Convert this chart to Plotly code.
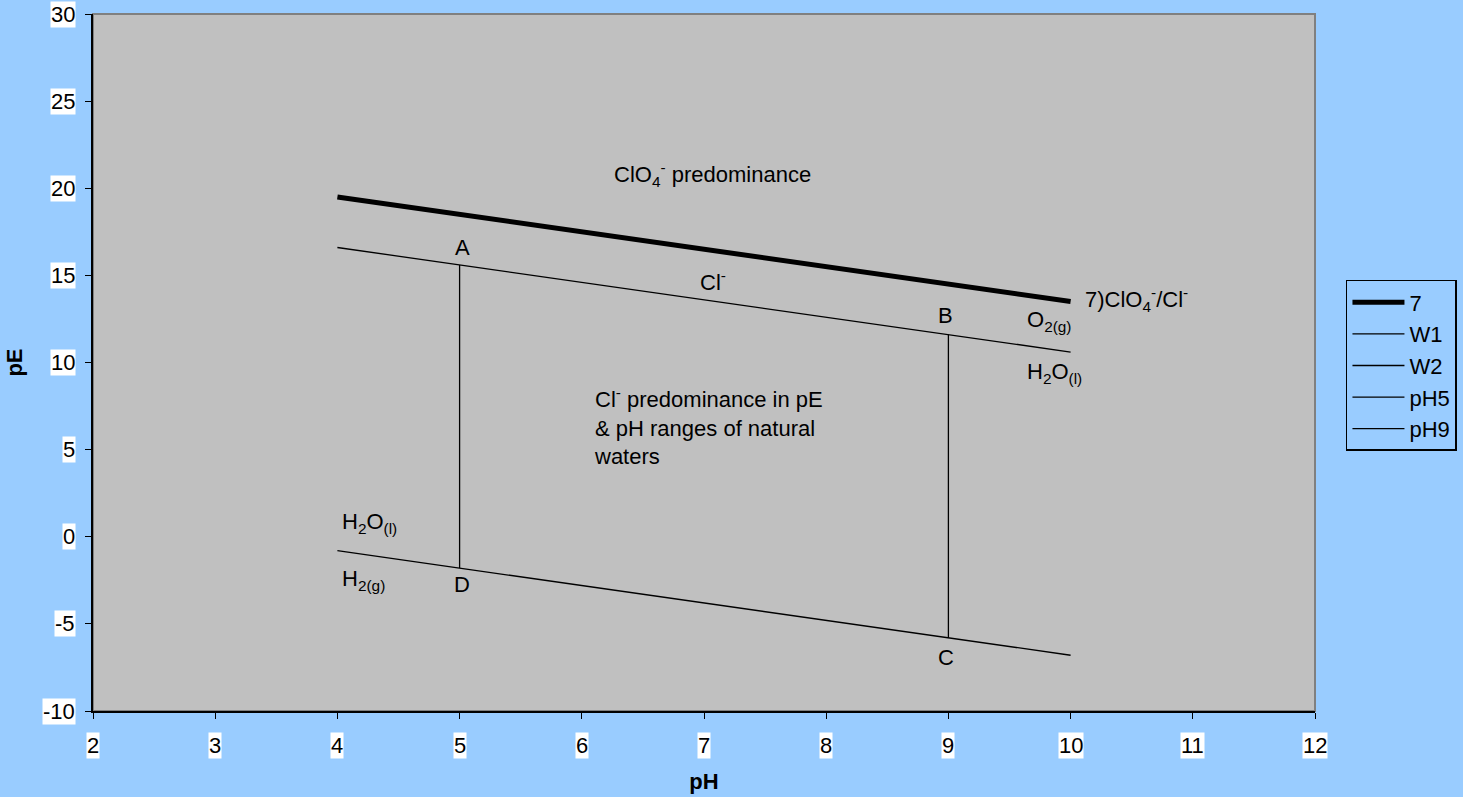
import plotly.graph_objects as go

# Data
ph_line = [4, 10]
pe_7 = [19.5, 13.5]
pe_w1 = [16.6, 10.6]
pe_w2 = [-0.8, -6.8]
ph5_x = [5, 5]
ph5_y = [15.6, -1.8]
ph9_x = [9, 9]
ph9_y = [11.6, -5.8]

x_ticks = [2, 3, 4, 5, 6, 7, 8, 9, 10, 11, 12]
y_ticks = [-10, -5, 0, 5, 10, 15, 20, 25, 30]

FONT = "Arial, Liberation Sans, sans-serif"
FS = 22
BG = "#99CCFF"
PLOT_BG = "#C0C0C0"

fig = go.Figure()
fig.add_trace(go.Scatter(x=ph_line, y=pe_7, mode="lines", name="7",
                         line=dict(color="black", width=5)))
fig.add_trace(go.Scatter(x=ph_line, y=pe_w1, mode="lines", name="W1",
                         line=dict(color="black", width=1.3)))
fig.add_trace(go.Scatter(x=ph_line, y=pe_w2, mode="lines", name="W2",
                         line=dict(color="black", width=1.3)))
fig.add_trace(go.Scatter(x=ph5_x, y=ph5_y, mode="lines", name="pH5",
                         line=dict(color="black", width=1.3)))
fig.add_trace(go.Scatter(x=ph9_x, y=ph9_y, mode="lines", name="pH9",
                         line=dict(color="black", width=1.3)))

ann = []
def lab(x, y, text, xanchor="center", align="center"):
    ann.append(dict(x=x, y=y, xref="x", yref="y", text=text, showarrow=False,
                    xanchor=xanchor, yanchor="middle", align=align,
                    font=dict(family=FONT, size=FS, color="black")))

lab(7.07, 20.8, "ClO<sub>4</sub><sup>-</sup> predominance")
lab(7.07, 14.7, "Cl<sup>-</sup>")
lab(5.02, 16.6, "A")
lab(8.98, 12.7, "B")
lab(8.98, -6.95, "C")
lab(5.02, -2.75, "D")
lab(10.1, 13.6, "7)ClO<sub>4</sub><sup>-</sup>/Cl<sup>-</sup>", xanchor="left")
lab(9.63, 12.4, "O<sub>2(g)</sub>", xanchor="left")
lab(9.63, 9.4, "H<sub>2</sub>O<sub>(l)</sub>", xanchor="left")
lab(4.02, 0.8, "H<sub>2</sub>O<sub>(l)</sub>", xanchor="left")
lab(4.02, -2.5, "H<sub>2(g)</sub>", xanchor="left")
lab(6.08, 6.3, "Cl<sup>-</sup> predominance in pE<br>&amp; pH ranges of natural<br>waters",
    xanchor="left", align="left")

# tick labels with white background
for t in x_ticks:
    ann.append(dict(x=t, y=0, xref="x", yref="paper", yshift=-34, text=str(t),
                    showarrow=False, xanchor="center", yanchor="middle",
                    bgcolor="white", borderpad=0,
                    font=dict(family=FONT, size=FS, color="black")))
for t in y_ticks:
    ann.append(dict(x=0, y=t, xref="paper", yref="y", xshift=-17, text=str(t),
                    showarrow=False, xanchor="right", yanchor="middle",
                    bgcolor="white", borderpad=0,
                    font=dict(family=FONT, size=FS, color="black")))

fig.update_layout(
    width=1463, height=797, autosize=False,
    margin=dict(l=93, r=148, t=14, b=86, autoexpand=False),
    paper_bgcolor=BG, plot_bgcolor=PLOT_BG,
    font=dict(family=FONT, size=FS, color="black"),
    annotations=ann,
    shapes=[dict(type="rect", xref="paper", yref="paper", x0=0, x1=1, y0=0, y1=1,
                 line=dict(color="#808080", width=2), layer="below")],
    legend=dict(xref="container", yref="container", x=0.92, y=0.6487,
                xanchor="left", yanchor="top",
                bgcolor=BG, bordercolor="black", borderwidth=1.5,
                font=dict(family=FONT, size=FS, color="black"),
                tracegroupgap=0, itemwidth=52),
    xaxis=dict(range=[2, 12], tickvals=x_ticks, showticklabels=False,
               showgrid=False, zeroline=False, showline=True, linecolor="black",
               linewidth=1.5, ticks="outside", ticklen=6, tickcolor="black",
               automargin=False,
               title=dict(text="<b>pH</b>", font=dict(family=FONT, size=FS), standoff=56)),
    yaxis=dict(range=[-10, 30], tickvals=y_ticks, showticklabels=False,
               showgrid=False, zeroline=False, showline=True, linecolor="black",
               linewidth=1.5, ticks="outside", ticklen=6, tickcolor="black",
               automargin=False,
               title=dict(text="<b>pE</b>", font=dict(family=FONT, size=FS), standoff=57)),
)

fig.write_html("out.html",
               config=dict(displayModeBar=False, responsive=False),
               post_script="document.body.style.margin='0';")
